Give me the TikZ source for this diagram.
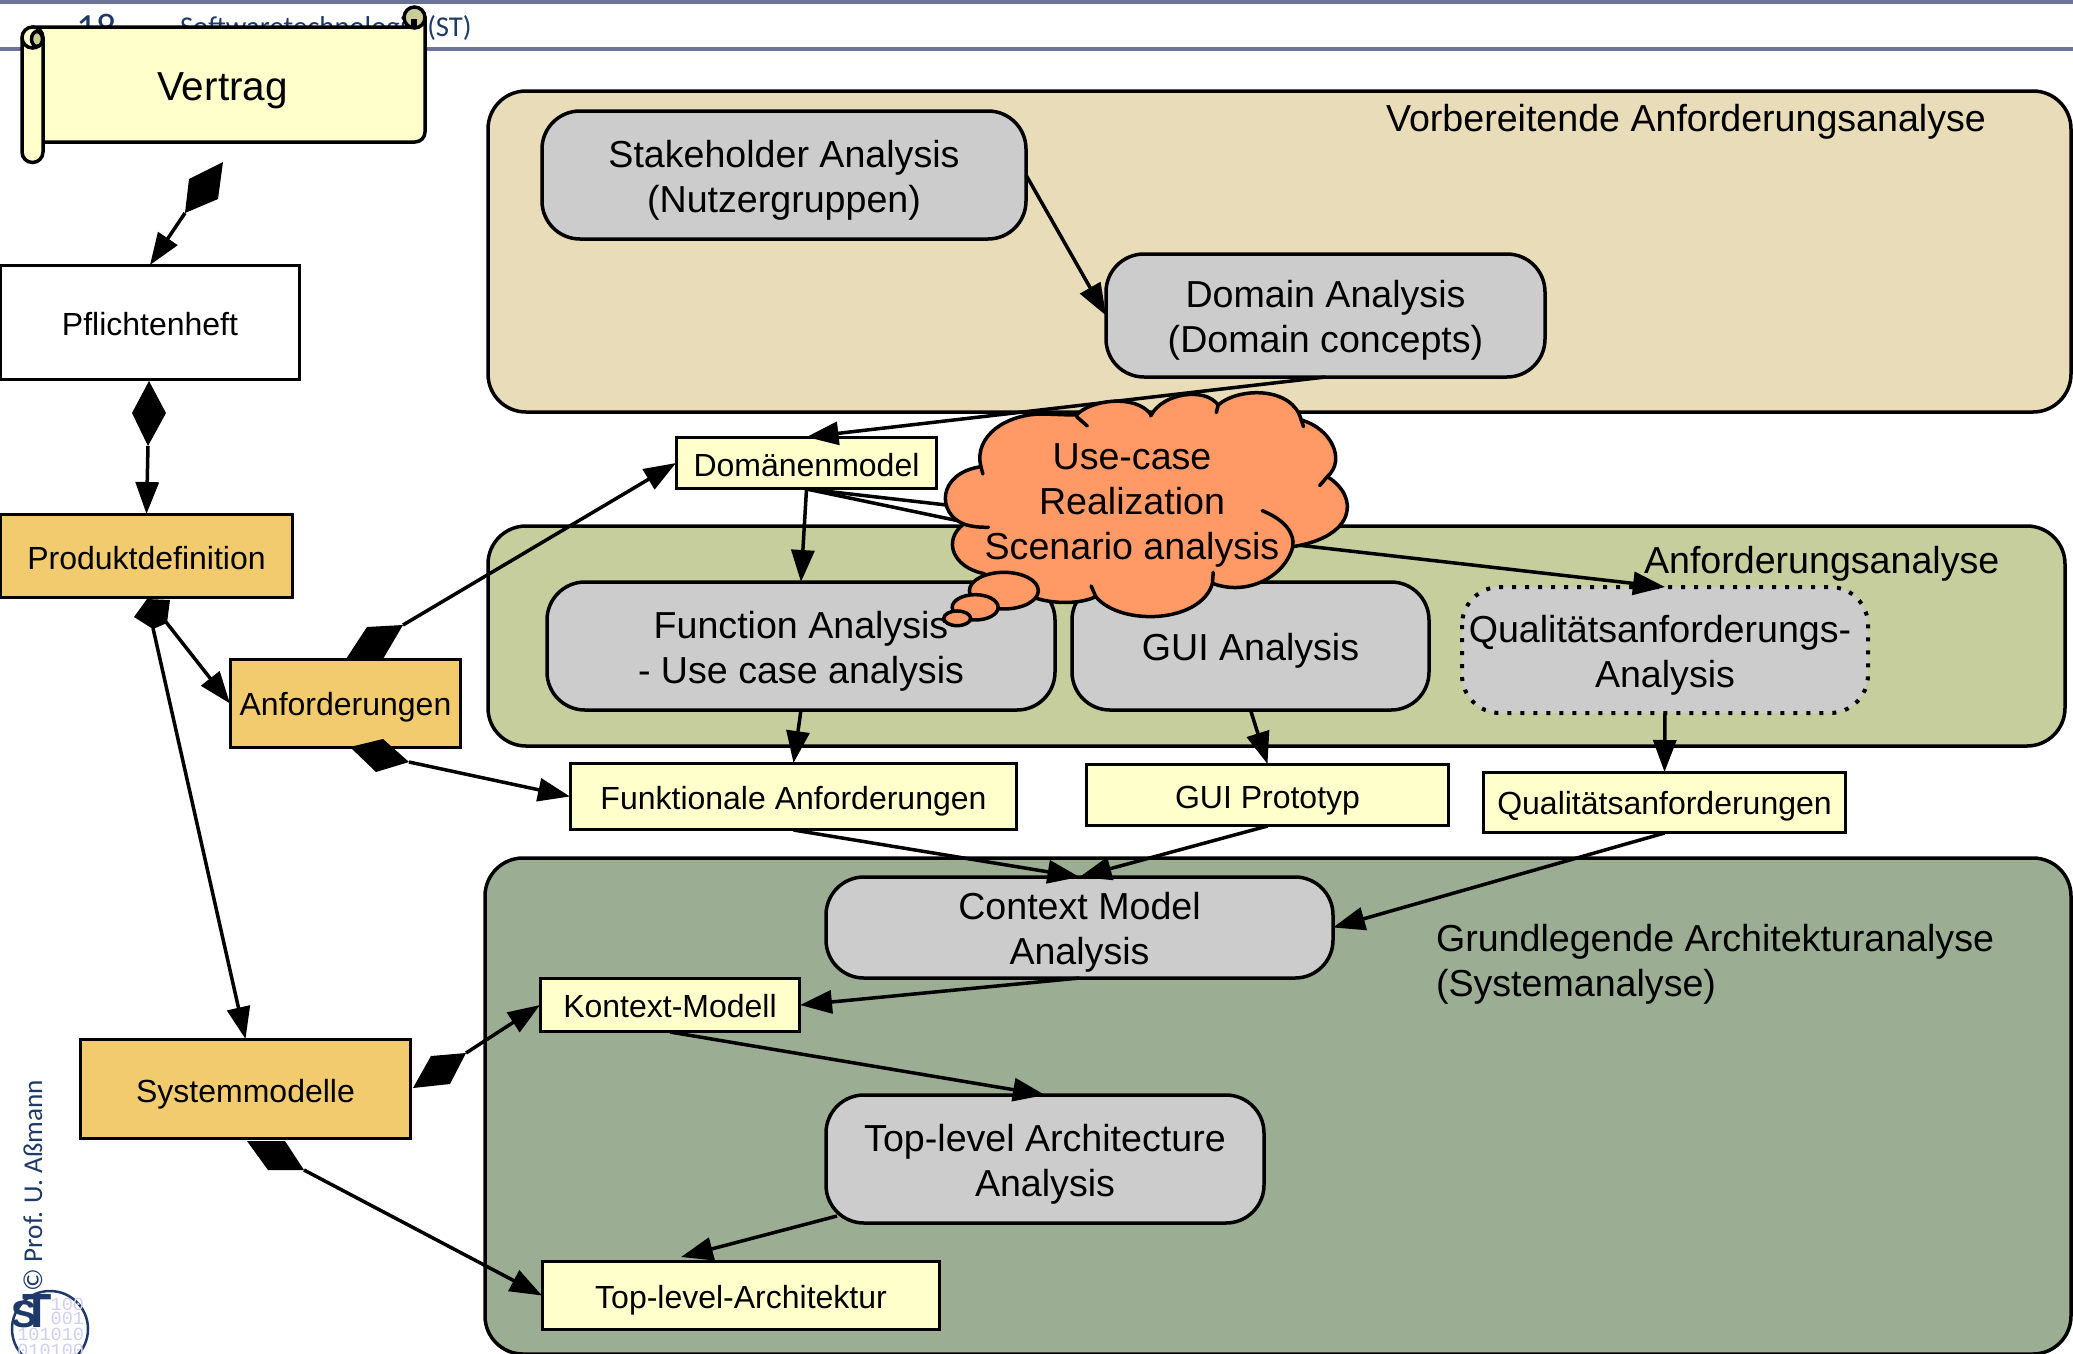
\documentclass[tikz,border=0pt]{standalone}
\usepackage{fontspec}
\setmainfont{Liberation Sans}
\newfontfamily\hdrfont{Carlito}
\newfontfamily\logomono{Liberation Mono}
\usetikzlibrary{arrows.meta}
\definecolor{cYel}{HTML}{FFFFCC}
\definecolor{cOra}{HTML}{F2CB6E}
\definecolor{cGry}{HTML}{CCCCCC}
\definecolor{cP1}{HTML}{E8DDB8}
\definecolor{cP2}{HTML}{C6CE9E}
\definecolor{cP3}{HTML}{9BAE94}
\definecolor{cCld}{HTML}{FF9966}
\definecolor{cHdr}{HTML}{6B7399}
\definecolor{cBlue}{HTML}{1F3A68}
\definecolor{cBin}{HTML}{CFCFF0}
\definecolor{cCurl}{HTML}{CCCC99}
\tikzset{
  every node/.style={inner sep=0pt,outer sep=0pt,align=center,text=black},
  txtL/.style={font=\fontsize{37.6}{45}\selectfont},
  txtM/.style={font=\fontsize{32}{40}\selectfont},
  panel/.style={draw=black,line width=3.5pt,rounded corners=38pt},
  greybox/.style={draw=black,fill=cGry,line width=3.5pt,rounded corners=38pt},
  dotbox/.style={fill=cGry,rounded corners=38pt},
  yelbox/.style={draw=black,fill=cYel,line width=3.5pt,outer sep=0.5pt},
  orabox/.style={draw=black,fill=cOra,line width=3.5pt,outer sep=0.5pt},
  whibox/.style={draw=black,fill=white,line width=3.5pt,outer sep=0.5pt},
  conn/.style={draw=black,line width=3.5pt,-{Triangle[length=32pt,width=23pt]}},
  cloudline/.style={draw=black,line width=3.5pt,line cap=round},
  bin/.style={text=cBin,font=\logomono\fontsize{18.5}{18}\selectfont,anchor=base east},
}
\newcommand{\diam}[4]{\fill[black] #1 -- #2 -- #3 -- #4 -- cycle;}
\newcommand{\pnl}[6]{\node[#1,minimum width=#4-#3,minimum height=#6-#5] (#2) at ({(#3+#4)/2},{(#5+#6)/2}) {};}
% rounded box + its text: style, name, x1, x2, y1, y2, text style, text
\newcommand{\bx}[8]{\pnl{#1}{#2}{#3}{#4}{#5}{#6}\node[#7] (#2t) at (#2.center) {#8};}
% square box
\newcommand{\bb}[8]{\node[#1,minimum width=#4-#3-1,minimum height=#6-#5-1] (#2) at ({(#3+#4)/2},{(#5+#6)/2}) {};\node[#7] (#2t) at (#2.center) {#8};}
\begin{document}
\begin{tikzpicture}[x=1pt,y=-1pt]
\useasboundingbox (0,0) rectangle (2073,1353);
\clip (0,0) rectangle (2073,1353);
\fill[white] (0,0) rectangle (2073,1353);
% header
\draw[cHdr,line width=3.5pt] (0,2) -- (2073,2);
\draw[cHdr,line width=3.5pt] (0,49) -- (2073,49);
\node[anchor=base west,text=cBlue,font=\hdrfont\fontsize{40}{40}\selectfont] (pgno) at (76,41) {18};
\node[anchor=base west,text=cBlue,font=\hdrfont\fontsize{28.7}{28}\selectfont] (hdr) at (180,36) {Softwaretechnologie (ST)};
% panels
\pnl{panel,fill=cP1}{p1}{488}{2071}{91}{412}
\pnl{panel,fill=cP2}{p2}{488}{2065}{526}{746}
\pnl{panel,fill=cP3}{p3}{485}{2071}{858}{1354}
\node[txtL,anchor=west] (l1) at (1386,122) {Vorbereitende Anforderungsanalyse};
\node[txtL,anchor=west] (l2) at (1644,564) {Anforderungsanalyse};
\node[txtL,anchor=west,align=left] (l3) at (1436,964) {Grundlegende Architekturanalyse\\(Systemanalyse)};
% grey boxes
\bx{greybox}{sa}{542}{1026}{111}{239}{txtL,yshift=-5pt}{Stakeholder Analysis\\(Nutzergruppen)}
\bx{greybox}{da}{1106}{1545}{254}{377}{txtL,yshift=-5pt}{Domain Analysis\\(Domain concepts)}
\bx{greybox}{fa}{547}{1055}{582}{710}{txtL,yshift=-5pt}{Function Analysis\\- Use case analysis}
\bx{greybox}{ga}{1072}{1429}{582}{710}{txtL,yshift=-5pt}{GUI Analysis}
\bx{dotbox}{qa}{1462}{1868}{587}{713}{txtL,yshift=-5pt}{Qualitätsanforderungs-\hspace*{10pt}\\Analysis}
\draw[black,line width=4pt,dash pattern=on 4pt off 9pt,rounded corners=38pt] (1462,587) rectangle (1868,713);
\bx{greybox}{ca}{826}{1333}{877}{978}{txtL,yshift=-5pt}{Context Model\\Analysis}
\bx{greybox}{ta}{826}{1264}{1095}{1223}{txtL,yshift=-5pt}{Top-level Architecture\\Analysis}
% yellow boxes
\bb{yelbox}{dm}{676}{937}{437}{489}{txtM,yshift=-2pt}{Domänenmodel}
\bb{yelbox}{ff}{570}{1017}{763}{830}{txtM,yshift=-5pt}{Funktionale Anforderungen}
\bb{yelbox}{gp}{1086}{1449}{764}{826}{txtM,yshift=-6pt}{GUI Prototyp}
\bb{yelbox}{qf}{1483}{1846}{772}{833}{txtM,yshift=-4pt}{Qualitätsanforderungen}
\bb{yelbox}{km}{540}{800}{978}{1032}{txtM,yshift=-1pt}{Kontext-Modell}
\bb{yelbox}{tl}{542}{940}{1261}{1330}{txtM,yshift=-5pt}{Top-level-Architektur}
% left column
\bb{whibox}{pf}{0}{300}{265}{380}{txtM,yshift=-2pt}{Pflichtenheft}
\bb{orabox}{pd}{0}{293}{514}{598}{txtM,yshift=-2pt}{Produktdefinition}
\bb{orabox}{an}{230}{461}{659}{748}{txtM,yshift=-4pt}{Anforderungen}
\bb{orabox}{sm}{80}{411}{1039}{1139}{txtM,yshift=-5pt}{Systemmodelle}
% scroll
\draw[black,fill=cYel,line width=3.5pt,line join=round]
  (32,142) -- (415,142) arc[start angle=90,end angle=0,radius=10] -- (425,17) -- (415,27) -- (32,27) -- cycle;
\draw[black,fill=cCurl,line width=3.5pt] (414.5,17.5) circle[radius=10.5];
\fill[black] (411,19) rectangle (417,28);
\draw[black,fill=cYel,line width=3.5pt] (43,37.5) -- (43,152) arc[start angle=0,end angle=180,radius=10.5] -- (22,37.5) arc[start angle=180,end angle=360,radius=10.5] -- cycle;
\draw[black,fill=cCurl,line width=3.5pt] (37,39) ellipse[x radius=5.5,y radius=7.5];
\draw[black,line width=3.5pt] (22,37.5) arc[start angle=180,end angle=50,radius=10.5];
\node[font=\fontsize{40.5}{45}\selectfont] (vt) at (222.5,91) {Vertrag};
% composition diamonds
\diam{(223,162)}{(189,179)}{(185,213)}{(218,199)}
\coordinate (dVP) at (185,213);
\diam{(149,381)}{(132,413)}{(148,446)}{(166,413)}
\coordinate (dPP) at (148,446);
\fill[black] (147,599) -- (170,600) -- (167,623) -- (153,629) -- (134,617) -- cycle;
\coordinate (dPA) at (166,622);
\coordinate (dPS) at (153,628);
\diam{(367,627)}{(403,625)}{(383,659)}{(346,659)}
\coordinate (dAD) at (403,625);
\diam{(350,747)}{(383,739)}{(409,762)}{(376,772)}
\coordinate (dAF) at (409,762);
\diam{(413,1088)}{(431,1056)}{(466,1053)}{(450,1084)}
\coordinate (dSK) at (466,1053);
\diam{(247,1141)}{(285,1141)}{(304,1170)}{(268,1170)}
\coordinate (dST) at (304,1170);
% connectors
\draw[conn] (dVP) -- (pf.north);
\draw[conn] (dPP) -- (pd.north);
\draw[conn] (dPA) -- (an.west);
\draw[conn] (dPS) -- (sm.north);
\draw[conn] (dAD) -- (dm.west);
\draw[conn] (dAF) -- (ff.west);
\draw[conn] (dSK) -- (km.west);
\draw[conn] (dST) -- (tl.west);
\draw[conn] (sa.east) -- (da.west);
\draw[conn] (da.south) -- (dm.north);
\draw[conn] (dm.south) -- (fa.north);
\draw[conn] (dm.south) -- (ga.north);
\draw[conn] (dm.south) -- (qa.north);
\draw[conn] (fa.south) -- (ff.north);
\draw[conn] (ga.south) -- (gp.north);
\draw[conn] (qa.south) -- (qf.north);
\draw[conn] (ff.south) -- (ca.north);
\draw[conn] (gp.south) -- (ca.north);
\draw[conn] (qf.south) -- (ca.east);
\draw[conn] (ca.south) -- (km.east);
\draw[conn] (km.south) -- (ta.north);
\coordinate (tTS) at (837,1216);
\coordinate (tTE) at (681,1257);
\draw[conn] (tTS) -- (tTE);
% cloud
\begin{scope}[shift={(780,370)},x=0.3827pt,y=-0.3333pt]
\draw[black,fill=cCld,line width=3.5pt,line join=round]
 (525,290) .. controls (505,200) and (590,130) .. (690,132)
 .. controls (720,133) and (750,135) .. (775,135)
 .. controls (810,90) and (930,70) .. (970,135)
 .. controls (1000,70) and (1110,50) .. (1145,105)
 .. controls (1200,50) and (1340,50) .. (1362,150)
 .. controls (1440,175) and (1480,270) .. (1430,320)
 .. controls (1515,380) and (1505,500) .. (1340,530)
 .. controls (1320,620) and (1220,680) .. (1130,640)
 .. controls (1100,760) and (890,770) .. (825,680)
 .. controls (780,705) and (710,700) .. (670,685)
 -- (530,610)
 .. controls (450,590) and (425,510) .. (480,462)
 .. controls (410,430) and (410,310) .. (525,290) -- cycle;
\draw[cloudline] (530,312) -- (525,290);
\draw[cloudline] (775,140) -- (803,168);
\draw[cloudline] (970,135) -- (968,138);
\draw[cloudline] (1145,105) -- (1140,128);
\draw[cloudline] (1362,150) -- (1368,170);
\draw[cloudline] (1430,320) -- (1410,347);
\draw[cloudline] (1260,422) .. controls (1320,450) and (1345,490) .. (1340,530);
\draw[cloudline] (1130,640) -- (1132,607);
\draw[cloudline] (825,680) -- (813,648);
\draw[cloudline] (480,462) .. controls (500,470) and (520,472) .. (545,472);
\draw[black,fill=cCld,line width=3.5pt] (585,662) ellipse[x radius=90,y radius=55];
\draw[black,fill=cCld,line width=3.5pt] (510,712) ellipse[x radius=60,y radius=38];
\draw[black,fill=cCld,line width=3.5pt] (463,745) ellipse[x radius=35,y radius=22];
\end{scope}
\node[txtL] (cl) at (1132,505) {Use-case\\Realization\\Scenario analysis};
% copyright and logo
\node[rotate=90,anchor=west,text=cBlue,font=\hdrfont\fontsize{27.2}{28}\selectfont] (cp) at (33,1291) {© Prof. U. Aßmann};
\draw[cBlue,line width=2.5pt] (50,1329) circle[radius=38];
\node[bin] (b1) at (84,1310) {100};
\node[bin] (b2) at (84,1324) {001};
\node[bin] (b3) at (84,1340) {101010};
\node[bin] (b4) at (84,1356) {010100};
\node[text=cBlue,font=\bfseries\fontsize{38}{45}\selectfont,anchor=base] (ls) at (24,1327) {S};
\node[text=cBlue,font=\bfseries\fontsize{48}{45}\selectfont,anchor=base] (lt) at (37,1327) {T};
\end{tikzpicture}
\end{document}
